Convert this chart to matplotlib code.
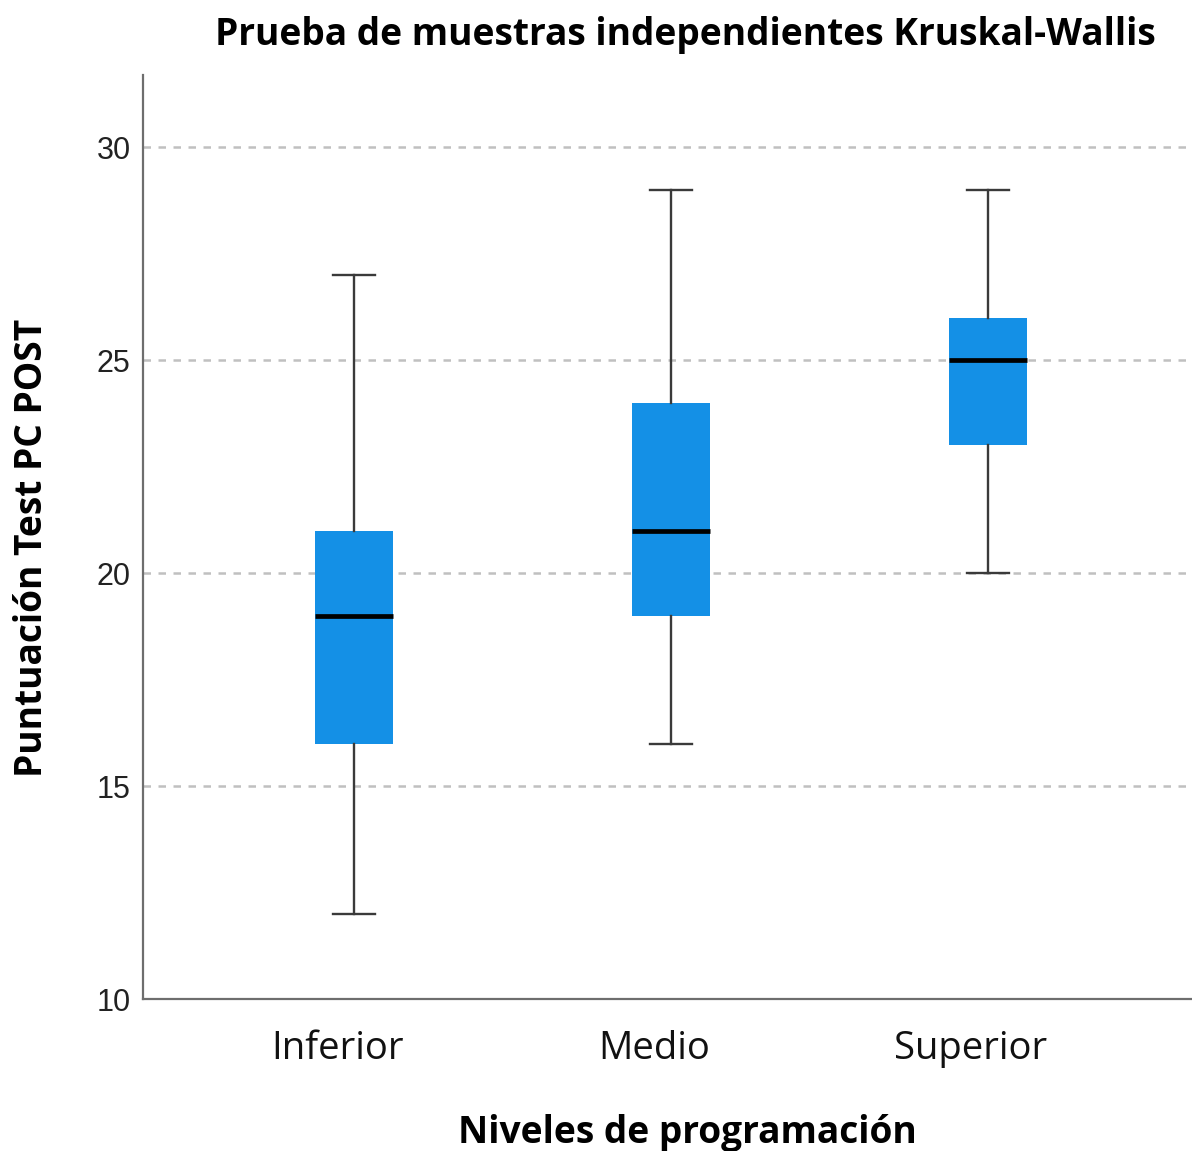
"""Kruskal-Wallis boxplot: Puntuación Test PC POST por nivel de programación."""

import matplotlib.pyplot as plt
import matplotlib.transforms as mtransforms

groups = ["Inferior", "Medio", "Superior"]
whisker_low = [12, 16, 20]
q1 = [16, 19, 23]
median = [19, 21, 25]
q3 = [21, 24, 26]
whisker_high = [27, 29, 29]
y_ticks = [10, 15, 20, 25, 30]

stats = [
    {"label": g, "whislo": lo, "q1": a, "med": m, "q3": b, "whishi": hi, "fliers": []}
    for g, lo, a, m, b, hi in zip(groups, whisker_low, q1, median, q3, whisker_high)
]

fig = plt.figure(figsize=(11.92, 11.51), dpi=100)
ax = fig.add_axes([0.12, 0.132, 0.88, 0.803])

ax.bxp(
    stats,
    positions=range(len(groups)),
    widths=0.246,
    capwidths=0.133,
    patch_artist=True,
    boxprops=dict(facecolor="#1490E6", edgecolor="#1490E6", linewidth=0),
    medianprops=dict(color="black", linewidth=3.4),
    whiskerprops=dict(color="#3a3a3a", linewidth=1.7),
    capprops=dict(color="#3a3a3a", linewidth=1.7),
    zorder=3,
)

ax.set_xlim(-0.666, 2.644)
ax.set_ylim(10, 31.7)
ax.set_yticks(y_ticks)
ax.set_yticklabels([str(v) for v in y_ticks], fontsize=22, family="Liberation Sans", color="#222222")
ax.set_xticks(range(len(groups)))
ax.set_xticklabels(groups, fontsize=27.5, family="Open Sans", color="#111111")
ax.tick_params(axis="y", length=0, pad=9)
ax.tick_params(axis="x", length=0, pad=22)
shift = mtransforms.ScaledTranslation(-17 / 100, 0, fig.dpi_scale_trans)
for lbl in ax.get_xticklabels():
    lbl.set_transform(lbl.get_transform() + shift)

for y in y_ticks[1:]:
    ax.axhline(y, color="#c0c0c0", linewidth=1.8, linestyle=(0, (3, 3)), zorder=1)

for side in ["top", "right"]:
    ax.spines[side].set_visible(False)
for side in ["left", "bottom"]:
    ax.spines[side].set_color("#6e6e6e")
    ax.spines[side].set_linewidth(1.6)

fig.text(0.575, 0.97, "Prueba de muestras independientes Kruskal-Wallis",
         ha="center", va="center", fontsize=26.7, fontweight="bold", family="Open Sans")
fig.text(0.027, 0.524, "Puntuación Test PC POST", rotation=90,
         ha="center", va="center", fontsize=26.7, fontweight="bold", family="Open Sans")
fig.text(0.577, 0.007, "Niveles de programación",
         ha="center", va="baseline", fontsize=26.7, fontweight="bold", family="Open Sans")

fig.savefig("out.png", dpi=100)
